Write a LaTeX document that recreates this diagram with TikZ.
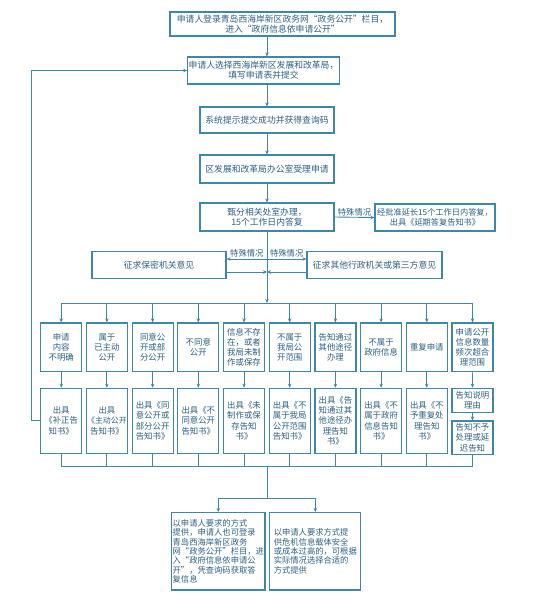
\documentclass[tikz,border=0pt]{standalone}
\usepackage{fontspec}
\setmainfont{Noto Sans CJK SC}
\usetikzlibrary{arrows.meta}
\definecolor{flowLine}{RGB}{62,135,165}
\definecolor{flowText}{RGB}{45,95,130}

\begin{document}
\begin{tikzpicture}[x=1pt, y=-1pt,
    box/.style={draw=flowLine, line width=1.2pt, text=flowText, align=center,
      inner sep=1pt, font=\fontsize{8.8}{10.2}\selectfont},
    cell/.style={box, minimum width=41pt, inner sep=0.3pt, font=\fontsize{8.4}{10.2}\selectfont},
    note/.style={box, align=left, minimum width=91pt, minimum height=77.3pt,
      font=\fontsize{8.3}{9.4}\selectfont},
    lbl/.style={text=flowText, inner sep=1pt, font=\fontsize{8.3}{9}\selectfont},
    arr/.style={flowLine, line width=0.9pt, -{Stealth[length=4pt,width=3.5pt]}},
    lnk/.style={flowLine, line width=0.9pt}]
  \useasboundingbox (0,0) rectangle (538,600);

  % main column
  \node[box, minimum width=225pt, minimum height=24pt] (apply) at (282.5,24)
    {申请人登录青岛西海岸新区政务网“政务公开”栏目，\\进入“政府信息依申请公开”};
  \node[box, minimum width=143pt, minimum height=27pt] (choose) at (263.5,70.5)
    {申请人选择西海岸新区发展和改革局，\\填写申请表并提交};
  \node[box, minimum width=134pt, minimum height=26pt] (code) at (267,120)
    {系统提示提交成功并获得查询码};
  \node[box, minimum width=134pt, minimum height=28pt] (accept) at (267,169)
    {区发展和改革局办公室受理申请};
  \node[box, minimum width=134pt, minimum height=28pt] (assign) at (267,217)
    {甄分相关处室办理，\\15个工作日内答复};
  \node[box, minimum width=120pt, minimum height=27pt, font=\fontsize{8.2}{10}\selectfont] (extend) at (435,217.5)
    {经批准延长15个工作日内答复，\\出具《延期答复告知书》};
  \node[box, minimum width=134pt, minimum height=26.5pt] (secret) at (159,265) {征求保密机关意见};
  \node[box, minimum width=135pt, minimum height=26.5pt] (third) at (374.5,265) {征求其他行政机关或第三方意见};

  % cases
  \foreach \i/\txt in {1/{申请\\内容\\不明确}, 2/{属于\\已主动\\公开}, 3/{同意公\\开或部\\分公开},
      4/{不同意\\公开}, 5/{信息不存\\在，或者\\我局未制\\作或保存}, 6/{不属于\\我局公\\开范围},
      7/{告知通过\\其他途径\\办理}, 8/{不属于\\政府信息}, 9/{重复申请},
      10/{申请公开\\信息数量\\频次超合\\理范围}}
    \node[cell, minimum height=48.7pt] (c\i) at ({61.2+45.7*(\i-1)},347.3) {\txt};

  % replies
  \foreach \i/\txt in {1/{出具\\《补正告\\知书》}, 2/{出具\\{\fontsize{7.9}{10.2}\selectfont《主动公开}\\告知书》},
      3/{出具《同\\意公开或\\部分公开\\告知书》}, 4/{出具《不\\同意公开\\告知书》},
      5/{出具《未\\制作或保\\存告知\\书》}, 6/{出具《不\\属于我局\\公开范围\\告知书》},
      7/{出具《告\\知通过其\\他途径办\\理告知\\书》}, 8/{出具《不\\属于政府\\信息告知\\书》},
      9/{出具《不\\予重复处\\理告知\\书》}}
    \node[cell, minimum height=65pt] (d\i) at ({61.2+45.7*(\i-1)},420.8) {\txt};
  \node[cell, minimum height=24pt] (d10a) at (472.5,400.3) {告知说明\\理由};
  \node[cell, minimum height=33.3pt] (d10b) at (472.5,437.7) {告知不予\\处理或延\\迟告知};

  % ways of providing
  \node[note] (online) at (218.3,551.3)
    {以申请人要求的方式\\提供，申请人也可登录\\青岛西海岸新区政务\\网“政务公开”栏目，进\\入“政府信息依申请公\\开”，凭查询码获取答\\复信息};
  \node[note] (offline) at (315.3,551.3)
    {以申请人要求方式提\\供危机信息载体安全\\或成本过高的，可根据\\实际情况选择合适的\\方式提供};

  % connectors
  \coordinate (spine) at (267,0);
  \coordinate (loop) at (31,0);
  \coordinate (ask) at (267,259);
  \coordinate (back) at (267,272);
  \coordinate (bus1) at (267,303);
  \coordinate (bus2) at (267,466.7);
  \coordinate (fork) at (267,498);

  \draw[arr] (apply.south -| spine) -- (choose.north -| spine);
  \draw[arr] (choose.south -| spine) -- (code.north);
  \draw[arr] (code.south) -- (accept.north);
  \draw[arr] (accept.south) -- (assign.north);
  \draw[arr] (assign.east) -- node[above, lbl] {特殊情况} (extend.west);

  \draw[arr] (ask) -- node[above, lbl] {特殊情况} (ask -| secret.east);
  \draw[arr] (ask) -- node[above, lbl] {特殊情况} (ask -| third.west);
  \draw[arr] (back -| secret.east) -- (back);
  \draw[arr] (back -| third.west) -- (back);
  \draw[arr] (assign.south) -- (bus1);

  \draw[lnk] (c1.north |- bus1) -- (c10.north |- bus1);
  \foreach \i in {1,...,10}
    \draw[arr] (c\i.north |- bus1) -- (c\i.north);
  \foreach \i in {1,...,9}
    \draw[arr] (c\i.south) -- (d\i.north);
  \draw[arr] (c10.south) -- (d10a.north);
  \draw[arr] (d10a.south) -- (d10b.north);

  \foreach \i in {1,...,9}
    \draw[lnk] (d\i.south) -- (d\i.south |- bus2);
  \draw[lnk] (d10b.south) -- (d10b.south |- bus2);
  \draw[lnk] (d1.south |- bus2) -- (d10b.south |- bus2);
  \draw[lnk] (bus2) -- (fork);
  \draw[arr] (fork) -| (online.north);
  \draw[arr] (fork) -| (offline.north);

  % back to the form
  \draw[arr] (d1.west) -- (d1.west -| loop) |- (choose.west);
\end{tikzpicture}
\end{document}
